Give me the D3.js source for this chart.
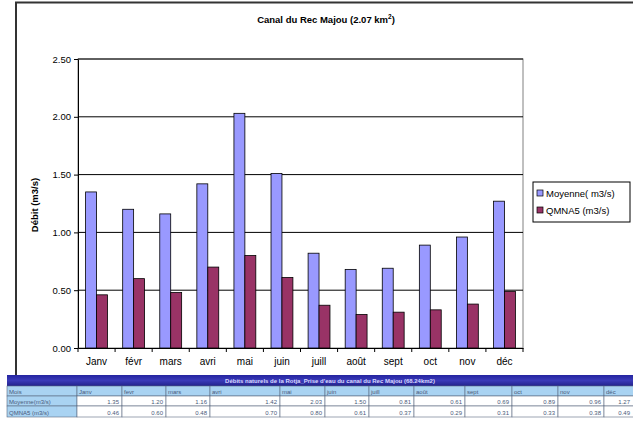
<!DOCTYPE html>
<meta charset="utf-8">
<html>
<style>
body { margin: 0; background: #fff; }
svg { display: block; font-family: "Liberation Sans", Arial, sans-serif; }
.tick text { font-size: 10px; fill: #000; }
.tick line { stroke: #000; }
.domain { stroke: #000; }
</style>
<svg width="633" height="426"></svg>
<script src="https://d3js.org/d3.v7.min.js"></script>
<script>
var months = ["Janv", "févr", "mars", "avri", "mai", "juin", "juill", "août", "sept", "oct", "nov", "déc"];
var moyenne = [1.35, 1.20, 1.16, 1.42, 2.03, 1.51, 0.82, 0.68, 0.69, 0.89, 0.96, 1.27];
var qmna5 = [0.46, 0.60, 0.48, 0.70, 0.80, 0.61, 0.37, 0.29, 0.31, 0.33, 0.38, 0.49];
var yTicks = [0, 0.5, 1, 1.5, 2, 2.5];
var seriesNames = ["Moyenne( m3/s)", "QMNA5 (m3/s)"];
var colors = ["#9999ff", "#993366"];

// table under the chart
var tableTitle = "Débits naturels de la Rotja_Prise d'eau du canal du Rec Majou (68.24km2)";
var tableMonths = ["Janv", "fevr", "mars", "avri", "mai", "juin", "juill", "août", "sept", "oct", "nov", "déc"];
var tableMoy = ["1.35", "1.20", "1.16", "1.42", "2.03", "1.50", "0.81", "0.61", "0.69", "0.89", "0.96", "1.27"];
var tableQmna = ["0.46", "0.60", "0.48", "0.70", "0.80", "0.61", "0.37", "0.29", "0.31", "0.33", "0.38", "0.49"];
var tableRowLabels = ["Mois", "Moyenne(m3/s)", "QMNA5 (m3/s)"];
var colEdges = [7, 77, 122, 166, 210, 280, 325, 369, 414, 465, 512, 558, 604, 633];

var svg = d3.select("svg");

// outer chart frame
svg.append("path")
    .attr("d", "M16,376V2.5H640")
    .attr("fill", "none")
    .attr("stroke", "#333")
    .attr("stroke-width", 2);

svg.append("text")
    .attr("x", 326).attr("y", 23)
    .attr("text-anchor", "middle")
    .style("font-size", "9.5px").style("font-weight", "bold")
    .html("Canal du Rec Majou (2.07 km<tspan dy='-4' font-size='6.5px'>2</tspan><tspan dy='4'>)</tspan>");

var margin = {left: 78, right: 523, top: 59, bottom: 348};

var x = d3.scaleBand().domain(months).range([margin.left, margin.right]).paddingInner(0.41).paddingOuter(0.205);
var xSub = d3.scaleBand().domain([0, 1]).range([0, x.bandwidth()]);
var y = d3.scaleLinear().domain([0, 2.5]).range([margin.bottom, margin.top]);

// plot border
svg.append("rect")
    .attr("x", margin.left).attr("y", margin.top)
    .attr("width", margin.right - margin.left).attr("height", margin.bottom - margin.top)
    .attr("fill", "#fff").attr("stroke", "#808080");

// gridlines
svg.append("g")
  .selectAll("line")
  .data(yTicks.slice(1))
  .join("line")
    .attr("x1", margin.left).attr("x2", margin.right)
    .attr("y1", d => y(d)).attr("y2", d => y(d))
    .attr("stroke", "#000");

// bars
var series = [moyenne, qmna5];
series.forEach(function(vals, si) {
  svg.append("g")
    .selectAll("rect")
    .data(vals)
    .join("rect")
      .attr("x", (d, i) => x(months[i]) + xSub(si))
      .attr("y", d => y(d))
      .attr("width", xSub.bandwidth())
      .attr("height", d => y(0) - y(d))
      .attr("fill", colors[si])
      .attr("stroke", "#000")
      .attr("stroke-width", 0.8);
});

// y axis
var yAxis = svg.append("g")
    .attr("transform", "translate(" + margin.left + ",0)")
    .call(d3.axisLeft(y).tickValues(yTicks).tickFormat(d3.format(".2f")).tickSize(4).tickSizeOuter(0));
yAxis.selectAll("text").style("font-size", "9.5px").attr("x", -7);

// x axis with ticks between categories
var xAxis = svg.append("g")
    .attr("transform", "translate(0," + margin.bottom + ")")
    .call(d3.axisBottom(x).tickSize(0).tickPadding(10).tickSizeOuter(0));
xAxis.selectAll("text").style("font-size", "10px");
xAxis.selectAll(".sep")
  .data(d3.range(months.length + 1))
  .join("line")
    .attr("x1", i => margin.left + i * (margin.right - margin.left) / months.length)
    .attr("x2", i => margin.left + i * (margin.right - margin.left) / months.length)
    .attr("y1", 0).attr("y2", 4)
    .attr("stroke", "#000");

svg.append("text")
    .attr("transform", "translate(38,205) rotate(-90)")
    .attr("text-anchor", "middle")
    .style("font-size", "9.5px").style("font-weight", "bold")
    .text("Débit (m3/s)");

// legend
var legend = svg.append("g").attr("transform", "translate(533,182)");
legend.append("rect").attr("width", 97).attr("height", 40).attr("fill", "#fff").attr("stroke", "#000");
seriesNames.forEach(function(name, i) {
  legend.append("rect")
    .attr("x", 4).attr("y", 8 + i * 17)
    .attr("width", 6).attr("height", 6)
    .attr("fill", colors[i]).attr("stroke", "#000").attr("stroke-width", 0.7);
  legend.append("text")
    .attr("x", 13).attr("y", 14.5 + i * 17)
    .style("font-size", "9.5px")
    .text(name);
});

// data table
var tTop = 375, rowH = [11, 10, 10, 11];
var table = svg.append("g");
var grad = svg.append("defs").append("linearGradient").attr("id", "hdr").attr("x1", 0).attr("x2", 0).attr("y1", 0).attr("y2", 1);
grad.append("stop").attr("offset", "0%").attr("stop-color", "#2424a0");
grad.append("stop").attr("offset", "50%").attr("stop-color", "#3a3ab8");
grad.append("stop").attr("offset", "100%").attr("stop-color", "#22228c");
table.append("rect")
    .attr("x", colEdges[0]).attr("y", tTop)
    .attr("width", 640 - colEdges[0]).attr("height", rowH[0])
    .attr("fill", "url(#hdr)");
table.append("text")
    .attr("x", 330).attr("y", tTop + 8)
    .attr("text-anchor", "middle")
    .style("font-size", "6px").style("font-weight", "bold")
    .attr("fill", "#d8d8ff")
    .text(tableTitle);

var rows = [tableMonths, tableMoy, tableQmna];
var yRow = tTop + rowH[0];
rows.forEach(function(vals, r) {
  var h = rowH[r + 1];
  var cells = [tableRowLabels[r]].concat(vals);
  cells.forEach(function(v, c) {
    var x0 = colEdges[c], x1 = colEdges[c + 1];
    var header = r === 0 || c === 0;
    table.append("rect")
      .attr("x", x0).attr("y", yRow)
      .attr("width", (c === cells.length - 1 ? 640 : x1) - x0).attr("height", h)
      .attr("fill", header ? "#a9d3f2" : "#fff")
      .attr("stroke", "#5a6a80").attr("stroke-width", 0.6);
    table.append("text")
      .attr("x", header ? x0 + 2 : x1 - 3)
      .attr("y", yRow + h - 2.5)
      .attr("text-anchor", header ? "start" : "end")
      .style("font-size", "6px")
      .attr("fill", "#4a5a7a")
      .text(v);
  });
  yRow += h;
});
</script>
</html>
